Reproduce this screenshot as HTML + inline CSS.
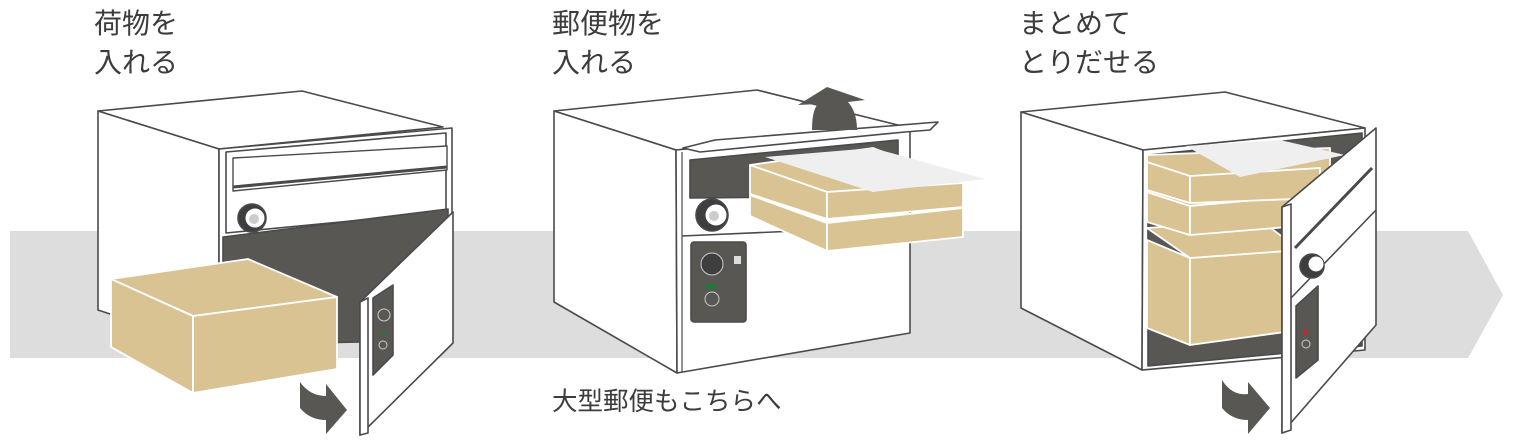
<!DOCTYPE html>
<html><head><meta charset="utf-8"><style>
html,body{margin:0;padding:0;background:#fff;width:1513px;height:442px;overflow:hidden}
svg{display:block}
text{font-family:"Liberation Sans","Noto Sans CJK JP",sans-serif;fill:#3c3c3c}
</style></head><body>
<svg width="1513" height="442" viewBox="0 0 1513 442" xmlns="http://www.w3.org/2000/svg">
<g fill="#fff" stroke="#4a4a4a" stroke-width="1.6" stroke-linejoin="round">
<polygon points="10,231 1468,231 1503,295 1468,358 10,358" fill="#dcdddc" stroke="none"/>

<!-- ===== BOX 1 ===== -->
<polygon points="98,111 302,91 443,127 219,149"/>
<polygon points="98,111 219,149 219,350 98,310"/>
<polygon points="219,149 452,128 452,330 219,350"/>
<polygon points="226,152 446,133 446,212 226,233" fill="#fff"/>
<polygon points="233,158 447,146 447,170 233,191" stroke-width="1.4"/>
<line x1="233" y1="187" x2="447" y2="167" stroke-width="3"/>
<polygon points="223,237 448,209 448,340 223,345" fill="#595754"/>
<circle cx="252" cy="218" r="14" fill="#3e3e3e"/>
<circle cx="255" cy="218" r="10" fill="#fff" stroke="#3e3e3e" stroke-width="1"/>
<circle cx="254" cy="219" r="5" fill="#ccc" stroke="none"/>
<polygon points="360,302 453,212 453,343 360,435"/>
<polygon points="360,302 368,298 368,433 360,435" fill="#fff"/>
<polygon points="373,298 393,285 393,355 373,375" fill="#595754"/>
<circle cx="384" cy="315" r="6" fill="none" stroke="#ccc" stroke-width="1"/>
<rect x="381" y="331" width="5" height="4" fill="#1f7a3a" stroke="none"/>
<circle cx="383" cy="345" r="4" fill="none" stroke="#ccc" stroke-width="1"/>
<g stroke="#fff" stroke-width="1.8" fill="#d9c392">
<polygon points="111,279 248,259 337,297 193,316"/>
<polygon points="111,279 193,316 193,393 111,347"/>
<polygon points="193,316 337,297 337,369 193,393"/>
</g>
<path d="M300,382 L300,408 Q310,420 326,420 L326,434 L347,410 L326,384 L326,396 Q310,396 300,382Z" fill="#595754" stroke="none"/>

<!-- ===== BOX 2 ===== -->
<polygon points="554,111 757,90 910,128 676,150"/>
<polygon points="554,111 676,150 677,373 554,302"/>
<polygon points="676,150 910,128 910,333 677,373"/>
<line x1="682" y1="152" x2="682" y2="372" stroke-width="1.2"/>
<polygon points="690,160 898,140 898,196 690,198" fill="#595754"/>
<polygon points="683,148 715,140 938,122 930,130 905,132 700,152" fill="#fff"/>
<line x1="682" y1="236" x2="910" y2="226"/>
<circle cx="712" cy="215" r="16" fill="#3e3e3e"/>
<circle cx="716" cy="215" r="11" fill="#fff" stroke="#3e3e3e" stroke-width="1"/>
<circle cx="714" cy="216" r="5" fill="#ccc" stroke="none"/>
<rect x="691" y="242" width="55" height="80" rx="3" fill="#595754"/>
<circle cx="712" cy="264" r="11" fill="#3e3e3e" stroke="#ccc" stroke-width="1"/>
<rect x="706" y="284" width="10" height="5" fill="#1f7a3a" stroke="none"/>
<circle cx="712" cy="299" r="7" fill="none" stroke="#ccc" stroke-width="1"/>
<rect x="734" y="256" width="7" height="8" fill="#ddd" stroke="none"/>
<path d="M812,130 Q812,110 818,104 L798,105 L827,87 L865,100 L848,102 Q857,112 857,130 Z" fill="#595754" stroke="none"/>
<g stroke="#fff" stroke-width="1.8" fill="#d9c392">
<polygon points="750,195 827,223 827,251 750,216"/>
<polygon points="827,223 963,208 963,237 827,251"/>
<polygon points="750,165 873,148 963,183 827,192"/>
<polygon points="750,165 827,192 827,219 750,194"/>
<polygon points="827,192 963,183 963,207 827,219"/>
</g>
<polygon points="765,157 873,148 985,179 873,192" fill="#eeefee" stroke="none"/>

<!-- ===== BOX 3 ===== -->
<polygon points="1021,112 1225,92 1365,128 1143,150"/>
<polygon points="1021,112 1143,150 1142,370 1021,308"/>
<polygon points="1143,150 1365,128 1365,350 1142,370"/>
<polygon points="1148,155 1362,133 1362,346 1148,366" fill="#595754"/>
<g stroke="#fff" stroke-width="1.8" fill="#d9c392">
<polygon points="1147,240 1190,258 1190,345 1147,328"/>
<polygon points="1190,258 1300,250 1300,330 1190,345"/>
<polygon points="1147,228 1260,220 1300,250 1190,258"/>
<polygon points="1147,192 1190,206 1190,235 1147,222"/>
<polygon points="1190,206 1300,196 1300,226 1190,235"/>
<polygon points="1147,155 1330,148 1330,190 1190,206 1147,192"/>
<polygon points="1147,162 1190,176 1190,203 1147,190"/>
<polygon points="1190,176 1320,168 1320,198 1190,203"/>
</g>
<polygon points="1186,146 1280,140 1345,155 1240,177" fill="#eeefee" stroke="none"/>
<polygon points="1282,207 1376,128 1376,325 1282,433"/>
<polygon points="1282,207 1291,204 1291,430 1282,433"/>
<line x1="1291" y1="298" x2="1376" y2="210"/>
<line x1="1295" y1="248" x2="1372" y2="168" stroke-width="3"/>
<circle cx="1312" cy="266" r="12" fill="#3e3e3e"/>
<circle cx="1316" cy="264" r="8" fill="#fff" stroke="#3e3e3e" stroke-width="1"/>
<polygon points="1296,306 1318,286 1318,360 1296,378" fill="#595754"/>
<rect x="1303" y="330" width="4" height="5" fill="#c0282a" stroke="none"/>
<circle cx="1306" cy="344" r="4" fill="none" stroke="#ccc" stroke-width="1"/>
<path d="M1222,380 L1222,408 Q1232,420 1248,420 L1248,434 L1270,408 L1248,382 L1248,394 Q1232,396 1222,380Z" fill="#595754" stroke="none"/>
</g>

<g font-size="28">
<text x="94" y="33">荷物を</text>
<text x="94" y="72">入れる</text>
<text x="552" y="33">郵便物を</text>
<text x="552" y="72">入れる</text>
<text x="1019" y="33">まとめて</text>
<text x="1019" y="72">とりだせる</text>
</g>
<text x="552" y="410" font-size="25.5">大型郵便もこちらへ</text>
</svg>
</body></html>
